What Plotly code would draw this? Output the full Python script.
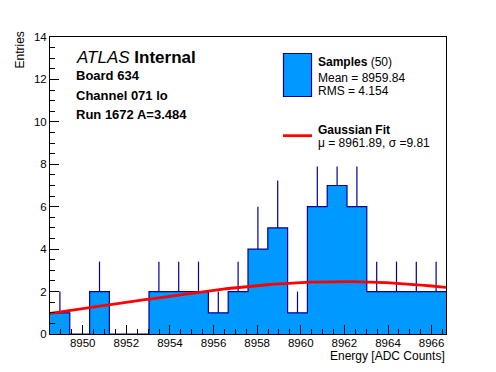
import numpy as np
import plotly.graph_objects as go

# ---- data ----
x_low, x_high, n_bins = 8948.5, 8966.66, 20
counts = [1, 0, 2, 0, 0, 2, 2, 2, 1, 2, 4, 5, 1, 6, 7, 6, 2, 2, 2, 2]
err_up = [1.0, 0, 1.41, 0, 0, 1.41, 1.41, 1.41, 1.0, 1.41, 2.0, 2.24, 1.0, 1.9, 0.9, 1.9, 1.41, 1.41, 1.41, 1.41]
fit_amp, fit_mu, fit_sigma = 2.47, 8961.89, 9.81
x_ticks = list(range(8950, 8967, 2))
y_ticks = list(range(0, 15, 2))

FONT = "Liberation Sans, Arial, Helvetica, sans-serif"
FILL = "#0099ff"
NAVY = "#000099"

OFF = 8                      # page body margin
W, H = 488, 364              # figure size (fits in the 496x372 window)
# plot frame in window pixels
FX0, FX1, FY0, FY1 = 50, 446, 37, 334
L, R = FX0 - OFF, W - (FX1 - OFF)
T, B = FY0 - OFF, H - (FY1 - OFF)
pw, ph = FX1 - FX0, FY1 - FY0


def px(xp):
    return (xp - FX0) / pw


def py(yp):
    return (FY1 - yp) / ph


edges = np.linspace(x_low, x_high, n_bins + 1)
centers = 0.5 * (edges[:-1] + edges[1:])

fig = go.Figure()

# histogram (step outline + fill)
fig.add_trace(go.Scatter(
    x=edges, y=list(counts) + [counts[-1]], mode="lines", line_shape="hv",
    line=dict(color=NAVY, width=1.2), fill="tozeroy", fillcolor=FILL,
    hoverinfo="skip", showlegend=False))

# upper error bars
ex, ey = [], []
for c, n, e in zip(centers, counts, err_up):
    if n > 0:
        ex += [c, c, None]
        ey += [n, n + e, None]
fig.add_trace(go.Scatter(x=ex, y=ey, mode="lines", line=dict(color=NAVY, width=1.2),
                         hoverinfo="skip", showlegend=False))

# gaussian fit curve
xf = np.linspace(x_low, x_high, 300)
yf = fit_amp * np.exp(-0.5 * ((xf - fit_mu) / fit_sigma) ** 2)
fig.add_trace(go.Scatter(x=xf, y=yf, mode="lines", line=dict(color="#ff0000", width=2.8),
                         hoverinfo="skip", showlegend=False))

axis_common = dict(
    showgrid=False, zeroline=False, showline=True, linecolor="black", linewidth=1,
    mirror=True, ticks="inside", ticklen=9, tickcolor="black", tickwidth=1,
    layer="above traces", tickfont=dict(family=FONT, size=11.5, color="black"),
)
fig.update_xaxes(range=[x_low, x_high], tickvals=x_ticks,
                 ticktext=[str(v) for v in x_ticks], ticklabelstandoff=-2,
                 minor=dict(dtick=0.5, tick0=8950, ticks="inside", ticklen=5,
                            tickcolor="black", tickwidth=1, showgrid=False),
                 **axis_common)
fig.update_yaxes(range=[0, 14], tickvals=y_ticks,
                 ticktext=[str(v) for v in y_ticks],
                 minor=dict(dtick=0.5, tick0=0, ticks="inside", ticklen=5,
                            tickcolor="black", tickwidth=1, showgrid=False),
                 **axis_common)

ann = []


def text(xp, yp, s, size, xanchor="left", angle=0):
    ann.append(dict(x=px(xp), y=py(yp), xref="paper", yref="paper", text=s,
                    showarrow=False, xanchor=xanchor, yanchor="middle", textangle=angle,
                    borderpad=0,
                    font=dict(family=FONT, size=size, color="black")))


# axis titles
text(19.5, 50, "Entries", 12, xanchor="center", angle=-90)
text(446, 356, "Energy [ADC Counts]", 12, xanchor="right")

# ATLAS label block
text(75, 57.5, "<i>ATLAS</i> <b>Internal</b>", 17)
text(75, 76, "<b>Board 634</b>", 13)
text(75, 95.5, "<b>Channel 071 lo</b>", 13)
text(75, 114.5, "<b>Run 1672 A=3.484</b>", 13)

# legend texts
text(317, 62, "<b>Samples</b> (50)", 12)
text(317, 77.5, "Mean = 8959.84", 12)
text(317, 90.5, "RMS = 4.154", 12)
text(317, 130, "<b>Gaussian Fit</b>", 12)
text(317, 142.5, "μ = 8961.89, σ =9.81", 12)

shapes = [
    dict(type="rect", xref="paper", yref="paper", x0=px(283.5), x1=px(311.5),
         y0=py(96.5), y1=py(53.5), fillcolor=FILL, line=dict(color=NAVY, width=1.2)),
    dict(type="line", xref="paper", yref="paper", x0=px(283), x1=px(312),
         y0=py(135.7), y1=py(135.7), line=dict(color="#ff0000", width=2.8)),
]

fig.update_layout(
    width=W, height=H, margin=dict(l=L, r=R, t=T, b=B),
    paper_bgcolor="white", plot_bgcolor="white",
    annotations=ann, shapes=shapes, showlegend=False,
    font=dict(family=FONT, color="black"),
)

fig.write_html("out.html")
